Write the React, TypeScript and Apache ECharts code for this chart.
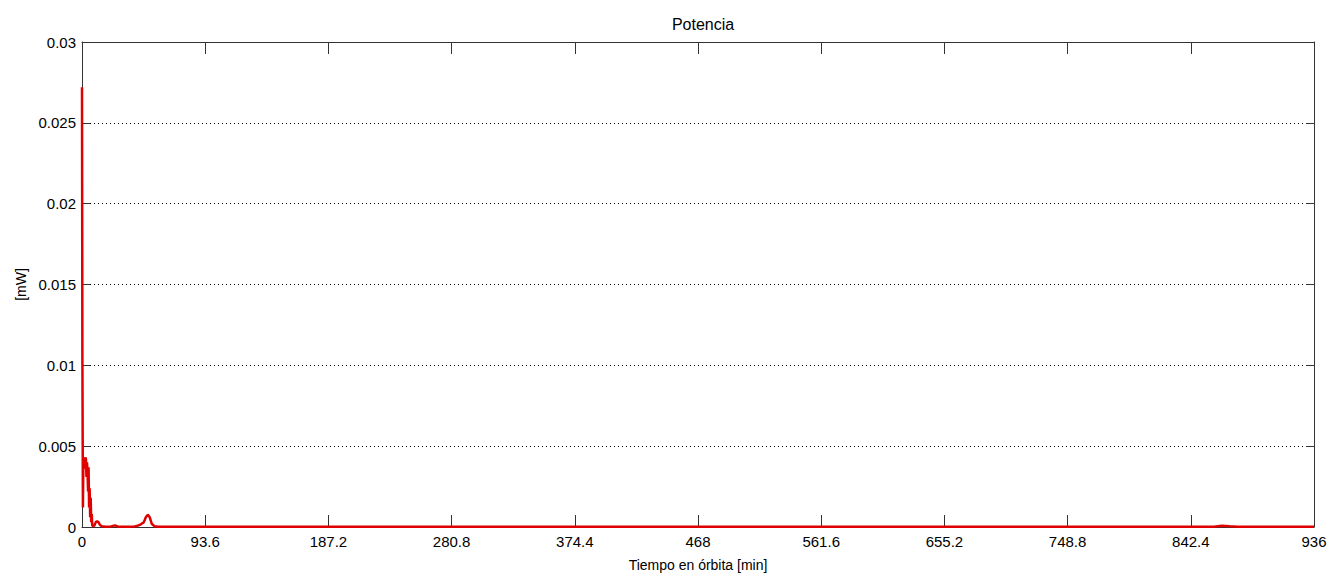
import React, { useEffect, useRef } from "react";
import * as echarts from "echarts";

const titleText = "Potencia";
const xName = "Tiempo en órbita [min]";
const yName = "[mW]";

// time in minutes
const timeMin = [
  0, 0.3, 0.7, 1.0, 1.4, 1.8, 2.2, 2.6, 3.0, 3.4, 3.8, 4.2, 4.6, 5.0, 5.4, 5.8, 6.2, 6.6, 7.0, 7.4, 7.8,
  8.5, 9.5, 10.5, 11.5, 12.5, 13.5, 15, 18, 22, 25, 27, 30, 36, 40, 43, 45, 47, 48.5, 50, 51.5, 53, 55, 58,
  70, 150, 300, 500, 700, 860, 866, 872, 878, 890, 936,
];
// power in mW
const powerMw = [
  0.0272, 0.0105, 0.0012, 0.0038, 0.0043, 0.0042, 0.0036, 0.0043, 0.0042, 0.0031, 0.0040, 0.0034, 0.0022,
  0.0037, 0.0012, 0.0024, 0.0006, 0.0018, 0.0003, 0.0008, 0.0001,
  0.00005, 0.0001, 0.0003, 0.00035, 0.0003, 0.00015, 0.00004, 0.00002, 0.00003, 0.0001, 0.00003, 0.00002,
  0.00002, 0.00003, 0.0001, 0.00018, 0.0003, 0.0006, 0.00075, 0.0006, 0.0002, 0.00005, 0.00002,
  0.00001, 0.00001, 0.00001, 0.00001, 0.00001, 0.00002, 0.00008, 0.00004, 0.00002, 0.00001, 0.00001,
];

const xTicks = [0, 93.6, 187.2, 280.8, 374.4, 468, 561.6, 655.2, 748.8, 842.4, 936];
const yTicks = [0, 0.005, 0.01, 0.015, 0.02, 0.025, 0.03];

const fontFamily = "'Liberation Sans', Arial, sans-serif";
const axisColor = "#333333";

export default function App() {
  const ref = useRef<HTMLDivElement>(null);
  useEffect(() => {
    const el = ref.current!;
    const chart = echarts.init(el, null, { renderer: "svg" });
    const data = timeMin.map((t, i) => [t, powerMw[i]]);
    const xFmt = (v: number) => {
      const near = xTicks.find((t) => Math.abs(t - v) < 1e-6);
      return near !== undefined ? String(near) : "";
    };
    const yFmt = (v: number) => {
      const near = yTicks.find((t) => Math.abs(t - v) < 1e-9);
      return near !== undefined ? String(near) : "";
    };
    chart.setOption({
      animation: false,
      backgroundColor: "#ffffff",
      title: {
        text: titleText,
        left: 698,
        top: 11,
        textAlign: "center",
        textStyle: { fontFamily, fontSize: 16, fontWeight: "normal", color: "#000" },
      },
      grid: { left: 82, right: 28, top: 42, bottom: 54, containLabel: false },
      xAxis: [
        {
          type: "value",
          min: 0,
          max: 936,
          interval: 93.6,
          position: "bottom",
          name: xName,
          nameLocation: "middle",
          nameGap: 31,
          nameTextStyle: { fontFamily, fontSize: 14, color: "#000" },
          axisLine: { show: true, onZero: false, lineStyle: { color: axisColor, width: 1 } },
          axisTick: { show: true, inside: true, length: 12, lineStyle: { color: axisColor } },
          axisLabel: { formatter: xFmt, fontFamily, fontSize: 15, color: "#000", margin: 7 },
          splitLine: { show: false },
        },
        {
          type: "value",
          min: 0,
          max: 936,
          interval: 93.6,
          position: "top",
          axisLine: { show: true, onZero: false, lineStyle: { color: axisColor, width: 1 } },
          axisTick: { show: true, inside: true, length: 12, lineStyle: { color: axisColor } },
          axisLabel: { show: false },
          splitLine: { show: false },
        },
      ],
      yAxis: [
        {
          type: "value",
          min: 0,
          max: 0.03,
          interval: 0.005,
          position: "left",
          name: yName,
          nameLocation: "middle",
          nameGap: 50,
          nameRotate: 90,
          nameTextStyle: { fontFamily, fontSize: 14, color: "#000" },
          axisLine: { show: true, onZero: false, lineStyle: { color: axisColor, width: 1 } },
          axisTick: { show: true, inside: true, length: 8, lineStyle: { color: axisColor } },
          axisLabel: { formatter: yFmt, fontFamily, fontSize: 15, color: "#000", margin: 6 },
          splitLine: { show: true, lineStyle: { color: "#000", type: [1, 3], width: 1 } },
        },
        {
          type: "value",
          min: 0,
          max: 0.03,
          interval: 0.005,
          position: "right",
          axisLine: { show: true, onZero: false, lineStyle: { color: axisColor, width: 1 } },
          axisTick: { show: true, inside: true, length: 8, lineStyle: { color: axisColor } },
          axisLabel: { show: false },
          splitLine: { show: false },
        },
      ],
      series: [
        {
          type: "line",
          xAxisIndex: 0,
          yAxisIndex: 0,
          data,
          showSymbol: false,
          symbol: "none",
          lineStyle: { color: "#e00000", width: 2.5 },
          clip: true,
          z: 5,
        },
      ],
    });
    return () => chart.dispose();
  }, []);
  return (
    <div
      ref={ref}
      style={{ position: "fixed", left: 0, top: 0, width: 1342, height: 581, background: "#fff" }}
    />
  );
}
